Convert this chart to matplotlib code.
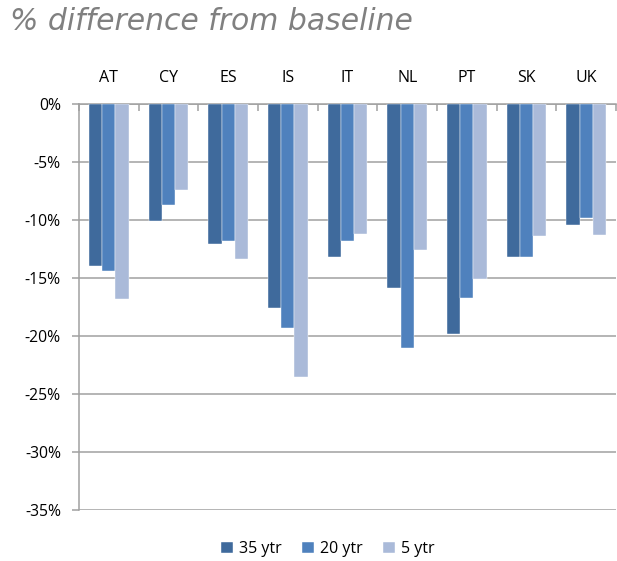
import numpy as np
import matplotlib.pyplot as plt

countries = ["AT", "CY", "ES", "IS", "IT", "NL", "PT", "SK", "UK"]
ytr35 = [-14.0, -10.1, -12.1, -17.6, -13.2, -15.9, -19.8, -13.2, -10.4]
ytr20 = [-14.4, -8.75, -11.8, -19.3, -11.8, -21.0, -16.7, -13.2, -9.85]
ytr5 = [-16.8, -7.4, -13.4, -23.5, -11.2, -12.6, -15.1, -11.4, -11.3]
series_names = ["35 ytr", "20 ytr", "5 ytr"]
colors = ["#3F6A9C", "#4F81BD", "#AABAD9"]

fig = plt.figure(figsize=(6.17, 5.61), dpi=100)
ax = fig.add_axes([79/617, 1-510/561, (616-79)/617, (510-104)/561])

x = np.arange(len(countries))
w = 0.222
for i, (vals, name, c) in enumerate(zip([ytr35, ytr20, ytr5], series_names, colors)):
    ax.bar(x + (i-1)*w, vals, w, color=c, label=name, edgecolor="white", linewidth=0.3, zorder=3)

ax.set_xlim(-0.5, len(countries)-0.5)
ax.set_ylim(-35, 0)
ax.set_yticks(np.arange(-35, 1, 5))
ax.set_yticklabels([f"{v}%" for v in range(-35, 1, 5)], fontfamily="Open Sans", fontsize=11.3)
ax.yaxis.grid(True, color="#A0A0A0", linewidth=1.1, zorder=0)

ax.xaxis.tick_top()
ax.set_xticks(x)
ax.set_xticklabels(countries, fontfamily="Open Sans", fontsize=11.5)
ax.set_xticks(np.arange(-0.5, len(countries)), minor=True)
ax.tick_params(axis="x", which="major", length=0, pad=13)
ax.tick_params(axis="x", which="minor", length=5, direction="in", color="#A0A0A0", width=1.1)
ax.tick_params(axis="y", length=5, color="#A0A0A0", width=1.1, pad=8)

for s in ["right", "bottom"]:
    ax.spines[s].set_visible(False)
ax.spines["left"].set_color("#A0A0A0")
ax.spines["top"].set_color("#A0A0A0")
ax.spines["left"].set_linewidth(1.1)
ax.spines["top"].set_linewidth(1.1)

fig.text(10/617, 1-21/561, "% difference from baseline", fontsize=21.5, style="italic",
         color="#808080", va="center", ha="left", family="DejaVu Sans")

fig.legend(loc="center", bbox_to_anchor=(328/617, 1-549/561), ncol=3, frameon=False,
           prop={"family": "Open Sans", "size": 11.5}, handlelength=0.75, handleheight=0.75,
           handletextpad=0.35, columnspacing=1.3)

fig.savefig("out.png", dpi=100)
